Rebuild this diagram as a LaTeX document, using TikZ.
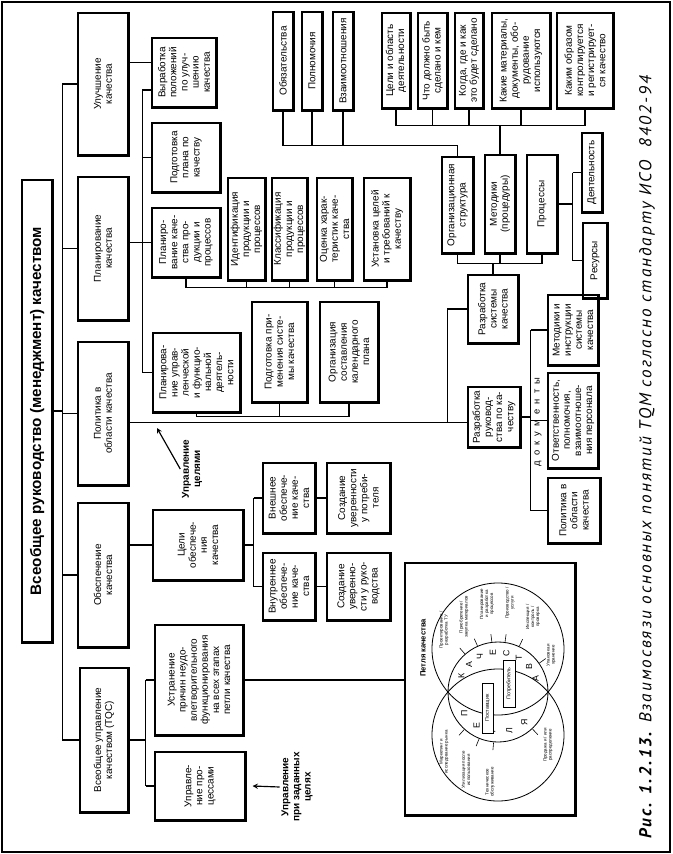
\documentclass[tikz,border=0pt]{standalone}
\usepackage{graphicx}
\usepackage{fontspec}
\setmainfont{Liberation Sans}
\newfontfamily\capfont[LetterSpace=12]{PT Sans}
\usetikzlibrary{calc}

\begin{document}
\begin{tikzpicture}[x=0.03cm, y=-0.03cm, >=stealth, line width=1pt,
	box/.style={draw, rotate=90, align=center, inner sep=1pt, font=\fontsize{8.5}{9.5}\selectfont},
	sz/.style 2 args={minimum width=#1*0.03cm, minimum height=#2*0.03cm},
	note/.style={rotate=90, align=center, inner sep=1pt, font=\fontsize{8.5}{9.5}\selectfont\bfseries},
	lbl/.style={rotate=90, align=center, inner sep=0pt, font=\fontsize{3.8}{4.3}\selectfont},
	lett/.style={rotate=90, inner sep=0pt, font=\fontsize{7.5}{8}\selectfont}]
				% 0. Рамка
				\useasboundingbox (0,0) rectangle (673,854);
				\draw (2,2) rectangle (670,852);
				
				% 1. Заголовок и первый уровень
				\node[box, sz={462}{30}, font=\fontsize{13}{15}\selectfont\bfseries] (title) at (37,411) {Всеобщее руководство (менеджмент) качеством};
				\node[box, sz={142}{50}] (ulu) at (103,84) {Улучшение\\качества};
				\node[box, sz={143}{50}] (plan) at (103,248.5) {Планирование\\качества};
				\node[box, sz={143}{50}] (pol) at (103,413.5) {Политика в\\области качества};
				\node[box, sz={144}{50}] (obes) at (103,575) {Обеспечение\\качества};
				\node[box, sz={144}{48}] (tqc) at (104,740) {Всеобщее управление\\качеством (TQC)};
				
				% 2. Планирование и улучшение
				\node[box, sz={69}{64}] (vyr) at (184,72.5) {Выработка\\положений\\по улуч-\\шению\\качества};
				\node[box, sz={69}{68}] (podg) at (186,157.5) {Подготовка\\плана по\\качеству};
				\node[box, sz={69}{68}] (pkp) at (186,242.5) {Планиро-\\вание каче-\\ства про-\\дукции и\\процессов};
				\node[box, sz={79}{87}] (pupr) at (196.5,372.5) {Планирова-\\ние управ-\\ленческой\\и функцио-\\нальной\\деятель-\\ности};
				\node[box, sz={100}{55}] (ppr) at (279.5,352) {Подготовка при-\\менения систе-\\мы качества};
				\node[box, sz={100}{58}] (org) at (349,352) {Организация\\составления\\календарного\\плана};
				\node[box, sz={102}{37}] (ident) at (246.5,229) {Идентификация\\продукции и\\процессов};
				\node[box, sz={102}{35}] (klass) at (289.5,229) {Классификация\\продукции и\\процессов};
				\node[box, sz={102}{35}] (ocen) at (334.5,229) {Оценка харак-\\теристик каче-\\ства};
				\node[box, sz={102}{46}] (ustan) at (387,229) {Установка целей\\и требований к\\качеству};
				
				% 3. Система качества
				\node[box, sz={98}{20}] (obyaz) at (283,61) {Обязательства};
				\node[box, sz={98}{20}] (poln) at (312,61) {Полномочия};
				\node[box, sz={98}{20}] (vzaim) at (343,61) {Взаимоотношения};
				\node[box, sz={95}{28}] (celi) at (396,60.5) {Цели и область\\деятельности};
				\node[box, sz={95}{29}] (chto) at (432.5,60.5) {Что должно быть\\сделано и кем};
				\node[box, sz={95}{28}] (kogda) at (469,60.5) {Когда, где и как\\это будет сделано};
				\node[box, sz={95}{58}] (kakie) at (521,60.5) {Какие материалы,\\документы, обо-\\рудование\\используются};
				\node[box, sz={95}{56}] (kakim) at (585,60.5) {Каким образом\\контролируется\\и регистрирует-\\ся качество};
				\node[box, sz={96}{31}] (orgstr) at (457.5,205) {Организационная\\структура};
				\node[box, sz={98}{30}] (metod) at (500,204) {Методики\\(процедуры)};
				\node[box, sz={98}{30}] (proc) at (542,204) {Процессы};
				\node[box, sz={79}{20}] (deyat) at (592,172.5) {Деятельность};
				\node[box, sz={75}{24}] (resur) at (595,260.5) {Ресурсы};
				\node[box, sz={68}{50}] (rsk) at (493,309) {Разработка\\системы\\качества};
				\node[box, sz={60}{52}] (ruk) at (494,417) {Разработка\\руковод-\\ства по ка-\\честву};
				\node[box, sz={70}{50}] (mins) at (573,330) {Методики и\\инструкции\\системы\\качества};
				\node[box, sz={95}{50}] (otv) at (573,420.5) {Ответственность,\\полномочия,\\взаимоотноше-\\ния персонала};
				\node[box, sz={65}{52}] (pold) at (574,510.5) {Политика в\\области\\качества};
				\node[rotate=90, font=\fontsize{8}{9}\selectfont] (docs) at (538,422) {д~~о~~к~~у~~м~~е~~н~~т~~ы};
				
				% 4. Обеспечение качества и TQC
				\node[box, sz={70}{90}] (celob) at (198,545) {Цели\\обеспече-\\ния\\качества};
				\node[box, sz={70}{52}] (vnesh) at (289,498) {Внешнее\\обеспече-\\ние каче-\\ства};
				\node[box, sz={70}{63}] (uvpot) at (358.5,498) {Создание\\уверенности\\у потреби-\\теля};
				\node[box, sz={67}{52}] (vnutr) at (289,586.5) {Внутреннее\\обеспече-\\ние каче-\\ства};
				\node[box, sz={67}{63}] (uvruk) at (358.5,586.5) {Создание\\уверенно-\\сти у руко-\\водства};
				\node[box, sz={110}{88}] (ustr) at (199,680) {Устранение\\причин неудо-\\влетворительного\\функционирования\\на всех этапах\\петли качества};
				\node[box, sz={68}{90}] (uprp) at (200,786) {Управле-\\ние про-\\цессами};
				\node[box, sz={252}{170}] (loop) at (490,689) {};
				\node[note] (uc) at (192,469) {Управление\\целями};
				\node[note] (upz) at (297,787) {Управление\\при заданных\\целях};
				
				% 5. Тени рамок
				\foreach \n in {title,ulu,plan,pol,obes,tqc,vyr,podg,pkp,pupr,ppr,org,ident,klass,ocen,ustan,obyaz,poln,vzaim,celi,chto,kogda,kakie,kakim,orgstr,metod,proc,deyat,resur,rsk,ruk,mins,otv,pold,celob,vnesh,uvpot,vnutr,uvruk,ustr,uprp,loop}
					\draw[line width=2.4pt] (\n.north west) -- (\n.south west) -- (\n.south east);
				
				% 6. Связи
				\coordinate (b0) at ($(ulu.north)+(-15,0)$);
				\draw (b0) -- (b0 |- tqc.north);
				\foreach \n in {ulu,plan,pol,obes,tqc}
					\draw (b0 |- \n.north) -- (\n.north);
				\draw (title.south) -- (title.south -| b0);
				
				\coordinate (uv) at ($(vyr.north)+(0,-10)$);
				\draw (ulu.south |- uv) -- (uv);
				\coordinate (b2) at ($(vyr.north)+(-9,17.5)$);
				\draw (vyr.north |- b2) -- (b2) -- (b2 |- pupr.north) -- (pupr.north);
				\draw (b2 |- podg.north) -- (podg.north);
				\draw (plan.south |- pkp.north) -- (pkp.north);
				
				\coordinate (br1) at ($(pkp.west)+(0,10)$);
				\draw (pkp.west) -- (br1) -- (br1 -| ustan.west) -- (ustan.west);
				\foreach \n in {ident,klass,ocen}
					\draw (\n.west) -- (\n.west |- br1);
				\coordinate (br2) at ($(pupr.west)+(0,4)$);
				\draw (pupr.west) -- (br2) -- (br2 -| org.west) -- (org.west);
				\draw (ppr.west) -- (ppr.west |- br2);
				
				\coordinate (m0) at ($(pol.south)+(0,9)$);
				\draw (m0) -- (m0 -| ruk.north);
				\coordinate (m1) at ($(rsk.north)+(-20,0)$);
				\draw (m1 |- m0) -- (m1) -- (rsk.north);
				
				\coordinate (br3) at ($(obyaz.west)+(0,35)$);
				\draw (obyaz.west) -- (br3) -- (br3 -| orgstr.east) -- (orgstr.east);
				\foreach \n in {poln,vzaim}
					\draw (\n.west) -- (\n.west |- br3);
				\coordinate (br4) at ($(celi.west)+(0,17)$);
				\draw (celi.west) -- (br4) -- (br4 -| kakim.west) -- (kakim.west);
				\foreach \n in {chto,kogda,kakie}
					\draw (\n.west) -- (\n.west |- br4);
				\draw (br4 -| metod.east) -- (metod.east);
				\coordinate (br5) at ($(orgstr.west)+(0,10)$);
				\draw (orgstr.west) -- (br5) -- (br5 -| proc.west) -- (proc.west);
				\draw (metod.west) -- (metod.west |- br5);
				\draw (br5 -| rsk.east) -- (rsk.east);
				
				\coordinate (b6) at ($(proc.south)+(15,0)$);
				\draw (proc.south) -- (b6);
				\draw (b6 |- deyat.north) -- (b6 |- resur.north);
				\draw (b6 |- deyat.north) -- (deyat.north);
				\draw (b6 |- resur.north) -- (resur.north);
				\coordinate (b7) at ($(ruk.south)+(10,0)$);
				\draw (ruk.south) -- (b7);
				\draw (b7 |- mins.north) -- (b7 |- pold.north);
				\foreach \n in {mins,otv,pold}
					\draw (b7 |- \n.north) -- (\n.north);
				
				\draw (obes.south |- celob.north) -- (celob.north);
				\coordinate (b8) at ($(celob.south)+(10,0)$);
				\draw (celob.south) -- (b8);
				\draw (b8 |- vnesh.north) -- (b8 |- vnutr.north);
				\draw (b8 |- vnesh.north) -- (vnesh.north);
				\draw (b8 |- vnutr.north) -- (vnutr.north);
				\draw (vnesh.south) -- (uvpot.north);
				\draw (vnutr.south) -- (uvruk.north);
				
				\coordinate (b9) at ($(tqc.south)+(17,0)$);
				\draw (tqc.south) -- (b9);
				\draw (b9 |- ustr.north) -- (b9 |- uprp.north);
				\draw (b9 |- ustr.north) -- (ustr.north);
				\draw (b9 |- uprp.north) -- (uprp.north);
				\draw (ustr.south) -- (ustr.south -| loop.north);
				
				% 7. Стрелки
				\coordinate (ucT) at (157,428);
				\draw[->] (uc.north) -- (ucT);
				\coordinate (upT) at ($(uprp.south)+(7,0)$);
				\draw[->] (upz.north) -- (upT);
				
				% 8. Петля качества
				\node[rotate=90, font=\fontsize{6.5}{7}\selectfont\bfseries] (loopT) at (423,648) {Петля качества};
				\coordinate (lc) at (498,692);
				\draw[line width=0.7pt] (lc) circle[radius=1.5cm];
				\draw[line width=0.7pt] ($(lc)+(0,-43)$) circle[radius=1.98cm];
				\draw[line width=0.7pt] ($(lc)+(0,43)$) circle[radius=1.98cm];
				\foreach \a/\l [count=\i] in {156/К,136.5/А,117/Ч,97.5/Е,78/С,58.5/Т,39/В,19.5/А}
					\node[lett] (k\i) at ($(lc)+(\a:1.2cm)$) {\l};
				\foreach \a/\l [count=\i] in {213/П,237.5/Е,262/Т,286.5/Л,311/Я}
					\node[lett] (p\i) at ($(lc)+(\a:1.2cm)$) {\l};
				\foreach \a in {131,114,97,82,65,35,228,248,265,313}
					\draw[line width=0.5pt] ($(lc)+(\a:1.52cm)$) -- ($(lc)+(\a:1.75cm)$);
				\node[lbl] (l1) at (444,630) {Проектирование /\\разработка ТУ};
				\node[lbl] (l2) at (464,617) {Приобретение /\\закупка материалов};
				\node[lbl] (l3) at (487,604) {Планирование\\и разработка\\процессов};
				\node[lbl] (l4) at (510,603) {Производство /\\услуги};
				\node[lbl] (l5) at (533,617) {Инспекция /\\контроль /\\проверка};
				\node[lbl] (l6) at (551,655) {Упаковка и\\хранение};
				\node[lbl] (l7) at (444,752) {Маркетинг и\\исследование рынка};
				\node[lbl] (l8) at (466,770) {Утилизация после\\использования};
				\node[lbl] (l9) at (490,782) {Техническое\\обслуживание};
				\node[lbl] (l10) at (548,745) {Продажа и / или\\распределение};
				\node[draw, fill=white, rotate=90, inner sep=1pt, line width=0.6pt, minimum width=1.5cm, minimum height=0.33cm, font=\fontsize{4.5}{5}\selectfont] (pst) at (487.5,708) {Поставщик};
				\node[draw, fill=white, rotate=90, inner sep=1pt, line width=0.6pt, minimum width=1.41cm, minimum height=0.36cm, font=\fontsize{4.5}{5}\selectfont] (ptr) at (509,683.5) {Потребитель};
				
				% 9. Подпись
				\node[rotate=90, inner sep=0pt] (cap) at (647,457) {\resizebox{22.9cm}{!}{\capfont\fontsize{11}{13}\selectfont\itshape\textbf{Рис. 1.2.13.} Взаимосвязи основных понятий TQM согласно стандарту ИСО\ \ 8402-94}};
			\end{tikzpicture}
\end{document}
